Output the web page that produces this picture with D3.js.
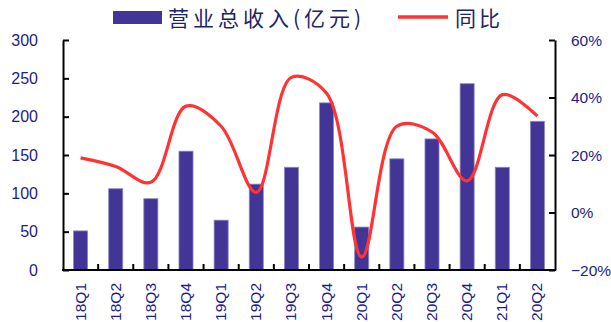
<!DOCTYPE html>
<html>
<head>
<meta charset="utf-8">
<script src="https://cdn.jsdelivr.net/npm/d3@7"></script>
<style>
  body { margin: 0; background: #fff; }
  svg text { font-family: "Liberation Sans", Arial, sans-serif; }
</style>
</head>
<body>
<svg id="chart" width="611" height="322"></svg>
<script>
// data
const quarters = ["18Q1","18Q2","18Q3","18Q4","19Q1","19Q2","19Q3","19Q4","20Q1","20Q2","20Q3","20Q4","21Q1","20Q2"];
const revenue = [51, 106, 93, 155, 65, 112, 134, 218, 56, 145, 171, 243, 134, 194];
const yoy = [19, 16, 10.5, 37, 30, 7, 47, 41.5, -15.5, 30, 28, 11, 41, 33.5];
const leftTicks = [0, 50, 100, 150, 200, 250, 300];
const rightTicks = [-20, 0, 20, 40, 60];

const svg = d3.select("svg#chart");

const plotLeft = 63, plotRight = 555, plotTop = 40, plotBottom = 270;
const axisColor = "#000";
const labelColor = "#1c1c8a";

let x = d3.scaleBand()
  .domain(d3.range(quarters.length))
  .range([plotLeft, plotRight])
  .paddingInner(0.6)
  .paddingOuter(0.3);

let xb = d3.scaleBand()
  .domain(d3.range(quarters.length))
  .range([plotLeft, plotRight]);

let y = d3.scaleLinear().domain([0, 300]).range([plotBottom, plotTop]);
let y2 = d3.scaleLinear().domain([-20, 60]).range([plotBottom, plotTop]);

// bars
svg.append("g")
  .selectAll("rect")
  .data(revenue)
  .join("rect")
  .attr("x", (d, i) => x(i))
  .attr("y", d => y(d))
  .attr("width", x.bandwidth())
  .attr("height", d => y(0) - y(d))
  .style("fill", "#423595")
  .style("stroke", "#8d87c6")
  .style("stroke-width", 0.8);

// yoy line
let line = d3.line()
  .x((d, i) => xb(i) + xb.bandwidth() / 2)
  .y(d => y2(d))
  .curve(d3.curveCatmullRom.alpha(0.5));

svg.append("path")
  .datum(yoy)
  .attr("d", line)
  .style("fill", "none")
  .style("stroke", "#ff3333")
  .style("stroke-width", 3.2);

// left axis
let gl = svg.append("g")
  .attr("transform", translate(plotLeft, 0))
  .call(d3.axisRight(y).tickValues(leftTicks).tickSize(6).tickSizeOuter(0));
gl.selectAll("text").remove();
gl.append("g").selectAll("text")
  .data(leftTicks)
  .join("text")
  .attr("x", -25)
  .attr("y", d => y(d))
  .attr("dy", "0.36em")
  .attr("text-anchor", "end")
  .style("font-size", "16px")
  .style("fill", labelColor)
  .text(d => d);

// right axis
let gr = svg.append("g")
  .attr("transform", translate(plotRight, 0))
  .call(d3.axisLeft(y2).tickValues(rightTicks).tickSize(6).tickSizeOuter(0));
gr.selectAll("text").remove();
gr.append("g").selectAll("text")
  .data(rightTicks)
  .join("text")
  .attr("x", 16)
  .attr("y", d => y2(d))
  .attr("dy", "0.36em")
  .attr("text-anchor", "start")
  .style("font-size", "15.5px")
  .style("fill", labelColor)
  .text(d => (d < 0 ? "\u2212" + Math.abs(d) : d) + "%");

// bottom axis, ticks at band edges
let gb = svg.append("g")
  .attr("transform", translate(0, plotBottom));
gb.append("line")
  .attr("x1", plotLeft - 1).attr("x2", plotRight + 1)
  .attr("y1", 0).attr("y2", 0);
gb.selectAll("line.tick")
  .data(d3.range(1, quarters.length))
  .join("line")
  .attr("class", "tick")
  .attr("x1", i => xb(i)).attr("x2", i => xb(i))
  .attr("y1", 0).attr("y2", -6);
gb.selectAll("text")
  .data(quarters)
  .join("text")
  .attr("transform", (d, i) => translate(xb(i) + xb.bandwidth() / 2 + 5, 13) + " rotate(-90)")
  .attr("text-anchor", "end")
  .style("font-size", "15.5px")
  .style("fill", labelColor)
  .text(d => d);

svg.selectAll(".domain, .tick line, g line")
  .style("stroke", axisColor)
  .style("stroke-width", 2);

// legend
let lg = svg.append("g");
lg.append("rect")
  .attr("x", 113).attr("y", 11).attr("width", 49).attr("height", 13)
  .style("fill", "#423595");
lg.append("text")
  .attr("x", 168).attr("y", 18).attr("dy", "0.36em")
  .style("font-family", "'Noto Sans CJK SC', sans-serif")
  .style("font-size", "21px")
  .style("letter-spacing", "4px")
  .style("fill", "#1d2466")
  .text("营业总收入(亿元)");
lg.append("line")
  .attr("x1", 398).attr("x2", 448).attr("y1", 17).attr("y2", 17)
  .style("stroke", "#ff3333")
  .style("stroke-width", 3.5);
lg.append("text")
  .attr("x", 455).attr("y", 18).attr("dy", "0.36em")
  .style("font-family", "'Noto Sans CJK SC', sans-serif")
  .style("font-size", "21px")
  .style("letter-spacing", "3px")
  .style("fill", "#1d2466")
  .text("同比");

function translate(x, y) {
  return 'translate(' + x + ',' + y + ')';
}
</script>
</body>
</html>
